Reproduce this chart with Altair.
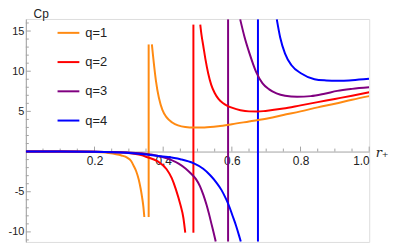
import altair as alt
import pandas as pd

# ---- data ----
series = ["q=1", "q=2", "q=3", "q=4"]
colors = ["#FF8A12", "#FF0000", "#800080", "#0000FF"]

q1_neg_r = [0, 0.1, 0.19, 0.221, 0.24, 0.2786, 0.295, 0.3071, 0.3143, 0.3214, 0.3286, 0.3343,
            0.3386, 0.3423, 0.3451]
q1_neg_cp = [0, 0, -0.02, -0.1, -0.18, -0.49, -0.75, -1.2, -1.8, -2.45, -3.45, -4.6,
             -5.7, -6.85, -8.15]
q1_vert_r = 0.3577
q1_vert_cp = [13.33, -8.15]
q1_pos_r = [0.3671, 0.3786, 0.3977, 0.4263, 0.4643, 0.49,
            0.52, 0.56, 0.6, 0.65, 0.707, 0.75, 0.8, 0.85, 0.9, 0.95, 1.0]
q1_pos_cp = [13.33, 8.89, 5.19, 3.62, 3.05, 2.98,
             3.0, 3.15, 3.4, 3.75, 4.15, 4.55, 5.0, 5.5, 5.95, 6.45, 6.9]

q2_neg_r = [0, 0.1, 0.2, 0.25, 0.293, 0.336, 0.35, 0.383, 0.41, 0.425, 0.437, 0.45, 0.459, 0.4643]
q2_neg_cp = [0, 0, -0.02, -0.06, -0.16, -0.45, -0.65, -1.2, -2.2, -3.3, -4.7, -6.6, -8.3, -10.1]
q2_vert_r = 0.488
q2_vert_cp = [15.8, -10.1]
q2_pos_r = [0.508, 0.5115, 0.5166, 0.523, 0.531, 0.54, 0.55, 0.561, 0.5737, 0.587, 0.602,
            0.625, 0.65, 0.675, 0.698, 0.75, 0.8, 0.85, 0.9, 0.95, 1.0]
q2_pos_cp = [15.8, 14.55, 13.2, 11.5, 9.75, 8.3, 7.28, 6.55, 6.05, 5.7, 5.43,
             5.15, 5.0, 4.98, 5.06, 5.35, 5.75, 6.15, 6.55, 6.95, 7.37]

q3_neg_r = [0, 0.1, 0.2, 0.3, 0.364, 0.421, 0.445, 0.465, 0.48, 0.495, 0.507, 0.517, 0.526,
            0.534, 0.5406, 0.547, 0.553]
q3_neg_cp = [0, 0, -0.02, -0.12, -0.37, -1.0, -1.5, -2.1, -2.7, -3.4, -4.3, -5.4, -6.6,
             -7.85, -9.0, -10.1, -11.2]
q3_vert_r = 0.589
q3_vert_cp = [16.45, -11.2]
q3_pos_r = [0.6243, 0.6371, 0.6514, 0.6706, 0.6894, 0.7086, 0.73, 0.755, 0.79, 0.83, 0.87,
            0.907, 0.95, 1.0]
q3_pos_cp = [16.45, 14.23, 12.22, 9.91, 8.48, 7.74, 7.25, 6.95, 6.82, 6.9, 7.2,
             7.55, 7.8, 8.0]

q4_neg_r = [0, 0.1, 0.2, 0.293, 0.393, 0.45, 0.488, 0.5166, 0.537, 0.555, 0.57, 0.583,
            0.593, 0.602, 0.612, 0.621, 0.626]
q4_neg_cp = [0, 0, -0.03, -0.16, -0.58, -0.95, -1.45, -2.15, -2.95, -3.86, -4.8, -5.9,
             -6.9, -7.99, -9.2, -10.46, -11.2]
q4_vert_r = 0.676
q4_vert_cp = [16.45, -11.2]
q4_pos_r = [0.7309, 0.7406, 0.7549, 0.7737, 0.8023, 0.8406, 0.875, 0.9071, 0.9157, 0.95, 0.9994]
q4_pos_cp = [16.45, 14.23, 12.19, 10.74, 9.72, 9.01, 8.85, 8.8, 8.8, 8.88, 9.05]

x_major = [0.2, 0.4, 0.6, 0.8, 1.0]
x_minor = [0.05, 0.1, 0.15, 0.25, 0.3, 0.35, 0.45, 0.5, 0.55, 0.65, 0.7, 0.75, 0.85, 0.9, 0.95]
y_major = [-10, -5, 5, 10, 15]
y_minor = [-11, -9, -8, -7, -6, -4, -3, -2, -1, 1, 2, 3, 4, 6, 7, 8, 9, 11, 12, 13, 14, 16]

# ---- build tables ----
rows = []
def add(q, seg, rs, cps):
    for i, (r, c) in enumerate(zip(rs, cps)):
        rows.append({"r": r, "cp": c, "q": q, "seg": f"{q}-{seg}", "i": i})

groups = [
    (q1_neg_r, q1_neg_cp, q1_vert_r, q1_vert_cp, q1_pos_r, q1_pos_cp),
    (q2_neg_r, q2_neg_cp, q2_vert_r, q2_vert_cp, q2_pos_r, q2_pos_cp),
    (q3_neg_r, q3_neg_cp, q3_vert_r, q3_vert_cp, q3_pos_r, q3_pos_cp),
    (q4_neg_r, q4_neg_cp, q4_vert_r, q4_vert_cp, q4_pos_r, q4_pos_cp),
]
vrows = []
for q, (nr, nc, vr, vc, pr, pc) in zip(series, groups):
    add(q, "neg", nr, nc)
    add(q, "pos", pr, pc)
    vrows.append({"r": vr, "top": vc[0], "bottom": vc[1], "q": q})
df = pd.DataFrame(rows)
dv = pd.DataFrame(vrows)

W, H = 346.5, 225
Y_DOM = [-11.25, 16.5]
y0 = Y_DOM[1] / (Y_DOM[1] - Y_DOM[0]) * H
AXIS_GRAY = "#a3a3a3"
FONT = "Liberation Sans"

x_scale = alt.Scale(domain=[0, 1], nice=False, zero=False)
y_scale = alt.Scale(domain=Y_DOM, nice=False, zero=False)

xax = alt.Axis(
    values=x_major, format=".1f", ticks=False, grid=False,
    domainColor=AXIS_GRAY, offset=-(H - y0), labelPadding=4,
    labelFont=FONT, labelFontSize=12, labelColor="#222",
    title="r₊", titleFont="DejaVu Serif", titleFontStyle="italic",
    titleFontWeight="normal", titleFontSize=13, titleColor="#222",
    titleX=W + 6, titleY=5, titleAlign="left", titleBaseline="alphabetic",
    titleAngle=0)
yax = alt.Axis(
    values=y_major, ticks=False, grid=False, domainColor=AXIS_GRAY,
    labelPadding=2, labelFont=FONT, labelFontSize=11, labelColor="#222",
    labelExpr="replace(datum.label, '−', '-')",
    title="Cp", titleFont=FONT, titleFontSize=12, titleFontWeight="normal",
    titleColor="#222", titleAngle=0, titleX=15, titleY=-1,
    titleAlign="center", titleBaseline="alphabetic")

color = alt.Color("q:N", scale=alt.Scale(domain=series, range=colors),
                  legend=alt.Legend(
                      title=None, orient="none", legendX=31, legendY=2,
                      symbolType="stroke", symbolSize=484, symbolStrokeWidth=2,
                      labelFont=FONT, labelFontSize=13, labelColor="#222",
                      labelOffset=5, rowPadding=10.5, padding=0))

lines = alt.Chart(df).mark_line(strokeWidth=2, clip=True, interpolate="monotone").encode(
    x=alt.X("r:Q", scale=x_scale, axis=xax),
    y=alt.Y("cp:Q", scale=y_scale, axis=yax),
    color=color,
    detail="seg:N",
    order="i:Q",
)

verts = alt.Chart(dv).mark_rule(strokeWidth=2).encode(
    x=alt.X("r:Q", scale=x_scale, axis=xax),
    y=alt.Y("top:Q", scale=y_scale, axis=yax),
    y2="bottom:Q",
    color=color,
)

def xticks(vals, length):
    d = pd.DataFrame({"r": vals, "z": [0] * len(vals)})
    return alt.Chart(d).mark_rule(color=AXIS_GRAY, strokeWidth=1, y2Offset=-length).encode(
        x=alt.X("r:Q", scale=x_scale, axis=xax),
        y=alt.Y("z:Q", scale=y_scale, axis=yax),
        y2="z:Q",
    )

def yticks(vals, length):
    d = pd.DataFrame({"cp": vals, "z": [0] * len(vals)})
    return alt.Chart(d).mark_rule(color=AXIS_GRAY, strokeWidth=1, x2Offset=length).encode(
        y=alt.Y("cp:Q", scale=y_scale, axis=yax),
        x=alt.X("z:Q", scale=x_scale, axis=xax),
        x2="z:Q",
    )

chart = alt.layer(
    xticks(x_major, 5), xticks(x_minor, 3),
    yticks(y_major, 5), yticks(y_minor, 3),
    verts, lines,
).properties(
    width=W, height=H, autosize="none",
    padding={"left": 18, "top": 10, "right": 22, "bottom": 2},
).configure_view(stroke=None).configure(background="white")

chart.save("out.html", embed_options={"renderer": "svg", "actions": False})
